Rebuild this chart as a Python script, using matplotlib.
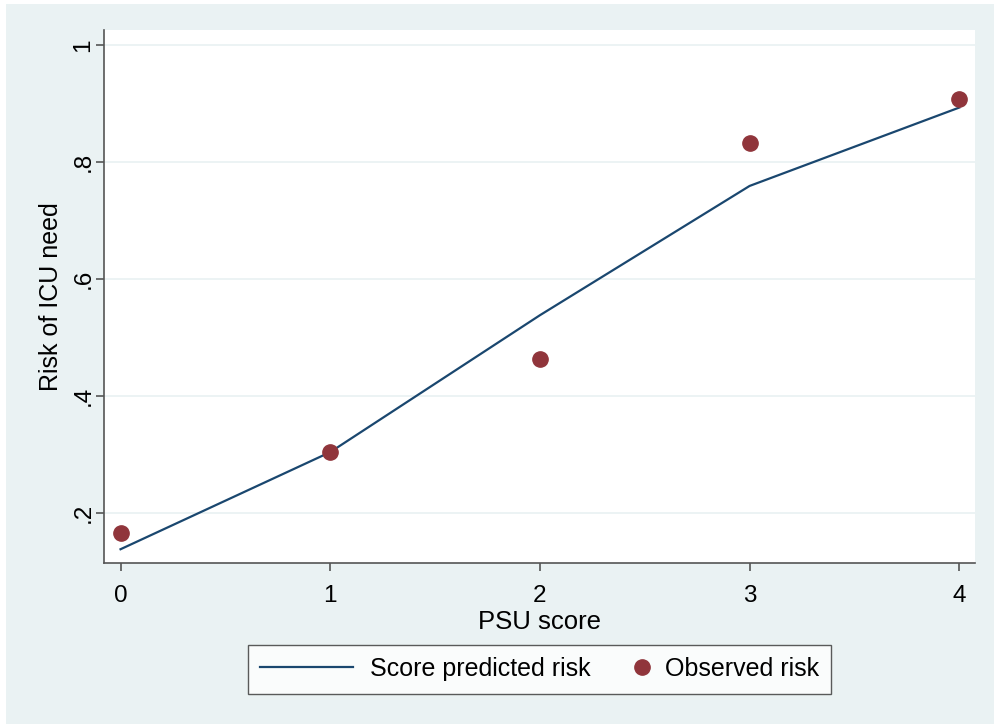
import matplotlib.pyplot as plt
import matplotlib.patches as mpatches
from matplotlib.legend_handler import HandlerLine2D

plt.rcParams['font.family'] = ['Liberation Sans', 'DejaVu Sans']

# PSU score vs risk of ICU need
psu = [0, 1, 2, 3, 4]
predicted = [0.138, 0.304, 0.538, 0.759, 0.893]
observed = [0.166, 0.304, 0.463, 0.832, 0.908]
yticks = [0.2, 0.4, 0.6, 0.8, 1.0]
ylabels = ['.2', '.4', '.6', '.8', '1']

bg = '#eaf2f3'
navy = '#1a476f'
maroon = '#90353b'


class MarkerAtEnd(HandlerLine2D):
    # put the legend marker at the right end of its handle box
    def create_artists(self, legend, orig_handle, xdescent, ydescent,
                       width, height, fontsize, trans):
        arts = super().create_artists(legend, orig_handle, xdescent, ydescent,
                                      width, height, fontsize, trans)
        for a in arts:
            a.set_xdata([width - xdescent - 4])
        return arts


fig = plt.figure(figsize=(9.94, 7.24), dpi=100, facecolor=bg)
# thin white margin on top and left
fig.patches.append(mpatches.Rectangle((0, 0), 6 / 994, 1, transform=fig.transFigure,
                                      facecolor='white', edgecolor='none', zorder=0))
fig.patches.append(mpatches.Rectangle((0, 1 - 4 / 724), 1, 4 / 724, transform=fig.transFigure,
                                      facecolor='white', edgecolor='none', zorder=0))

ax = fig.add_axes([0.1046, 0.2224, 0.8763, 0.7362])
ax.set_facecolor('white')

ln, = ax.plot(psu, predicted, color=navy, lw=1.6, label='Score predicted risk', zorder=3)
pts, = ax.plot(psu, observed, 'o', color=maroon, ms=11, label='Observed risk', zorder=4)

ax.set_xlim(-0.079, 4.075)
ax.set_ylim(0.1145, 1.0256)
ax.set_xticks(psu)
ax.set_yticks(yticks)
ax.set_yticklabels(ylabels, rotation=90, va='center')
ax.grid(axis='y', color=bg, lw=1.3)
ax.set_axisbelow(True)

for s in ['top', 'right']:
    ax.spines[s].set_visible(False)
for s in ['left', 'bottom']:
    ax.spines[s].set_color('#555555')
    ax.spines[s].set_linewidth(1.2)
ax.tick_params(labelsize=17.5, length=6, width=1.2, color='#555555')
ax.tick_params(axis='x', pad=10)
ax.tick_params(axis='y', pad=1)

ax.set_xlabel('PSU score', fontsize=18.5, labelpad=2)
ax.set_ylabel('Risk of ICU need', fontsize=18, labelpad=7)

leg = fig.legend(handles=[ln, pts], loc='center', bbox_to_anchor=(0.543, 1 - 669 / 724),
                 ncol=2, fontsize=18, frameon=True, fancybox=False, edgecolor='#333333',
                 handlelength=3.7, columnspacing=-1.45, borderpad=0.5,
                 handletextpad=0.7, handler_map={pts: MarkerAtEnd()})
leg.get_frame().set_linewidth(1.0)

fig.savefig('out.png', dpi=100, facecolor=bg)
